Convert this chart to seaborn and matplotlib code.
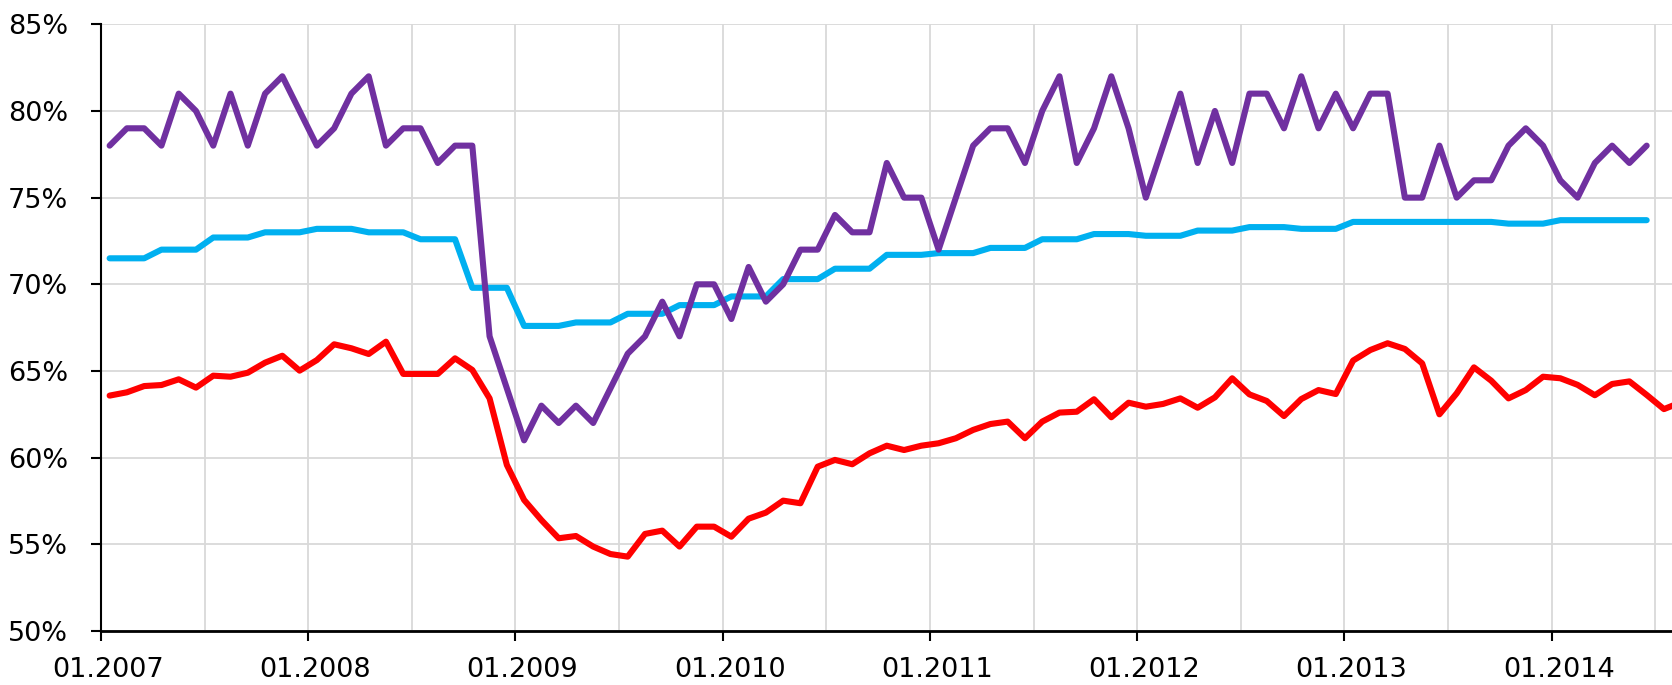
import matplotlib
matplotlib.use('Agg')
import matplotlib.pyplot as plt
from matplotlib.ticker import FixedLocator, FuncFormatter
from matplotlib.transforms import ScaledTranslation
import seaborn as sns
import numpy as np
import pandas as pd

# monthly values from 01.2007, in percent
red_values = [63.58, 63.77, 64.13, 64.19, 64.52, 64.04, 64.73, 64.67, 64.9, 65.48, 65.88, 65.02,
              65.63, 66.54, 66.31, 65.98, 66.69, 64.83, 64.83, 64.83, 65.73, 65.06, 63.42, 59.58,
              57.56, 56.4, 55.35, 55.48, 54.87, 54.44, 54.29, 55.6, 55.79, 54.87, 56.02, 56.02,
              55.44, 56.48, 56.83, 57.52, 57.37, 59.48, 59.87, 59.62, 60.25, 60.69, 60.44, 60.69,
              60.83, 61.12, 61.6, 61.94, 62.08, 61.12, 62.08, 62.6, 62.65, 63.37, 62.33, 63.17,
              62.94, 63.1, 63.42, 62.88, 63.48, 64.58, 63.65, 63.27, 62.4, 63.38, 63.9, 63.67,
              65.6, 66.21, 66.6, 66.27, 65.44, 62.5, 63.71, 65.21, 64.44, 63.42, 63.9, 64.67,
              64.58, 64.2, 63.6, 64.25, 64.4, 63.62, 62.8, 63.2]

cyan_values = [71.5, 71.5, 71.5, 72.0, 72.0, 72.0, 72.7, 72.7, 72.7, 73.0, 73.0, 73.0,
               73.2, 73.2, 73.2, 73.0, 73.0, 73.0, 72.6, 72.6, 72.6, 69.8, 69.8, 69.8,
               67.6, 67.6, 67.6, 67.8, 67.8, 67.8, 68.3, 68.3, 68.3, 68.8, 68.8, 68.8,
               69.3, 69.3, 69.3, 70.3, 70.3, 70.3, 70.9, 70.9, 70.9, 71.7, 71.7, 71.7,
               71.8, 71.8, 71.8, 72.1, 72.1, 72.1, 72.6, 72.6, 72.6, 72.9, 72.9, 72.9,
               72.8, 72.8, 72.8, 73.1, 73.1, 73.1, 73.3, 73.3, 73.3, 73.2, 73.2, 73.2,
               73.6, 73.6, 73.6, 73.6, 73.6, 73.6, 73.6, 73.6, 73.6, 73.5, 73.5, 73.5,
               73.7, 73.7, 73.7, 73.7, 73.7, 73.7]

purple_values = [78, 79, 79, 78, 81, 80, 78, 81, 78, 81, 82, 80,
                 78, 79, 81, 82, 78, 79, 79, 77, 78, 78, 67, 64,
                 61, 63, 62, 63, 62, 64, 66, 67, 69, 67, 70, 70,
                 68, 71, 69, 70, 72, 72, 74, 73, 73, 77, 75, 75,
                 72, 75, 78, 79, 79, 77, 80, 82, 77, 79, 82, 79,
                 75, 78, 81, 77, 80, 77, 81, 81, 79, 82, 79, 81,
                 79, 81, 81, 75, 75, 78, 75, 76, 76, 78, 79, 78,
                 76, 75, 77, 78, 77, 78]

x_labels = ['01.2007', '01.2008', '01.2009', '01.2010', '01.2011', '01.2012', '01.2013', '01.2014']
y_ticks = [50, 55, 60, 65, 70, 75, 80, 85]

colors = {'red': '#FF0000', 'cyan': '#00B0F0', 'purple': '#7030A0'}

frames = []
for name, vals in [('red', red_values), ('cyan', cyan_values), ('purple', purple_values)]:
    # points sit between the month tick marks, like in Excel
    frames.append(pd.DataFrame({'month': np.arange(len(vals)) + 0.5, 'value': vals, 'series': name}))
df = pd.concat(frames, ignore_index=True)

sns.set_style('white')
plt.rcParams['font.family'] = ['DejaVu Sans']

fig = plt.figure(figsize=(16.72, 6.85), dpi=100)
ax = fig.add_axes([101 / 1672, 54 / 685, 91 * 17.27 / 1672, (631 - 24.3) / 685])

sns.lineplot(data=df, x='month', y='value', hue='series', hue_order=['red', 'cyan', 'purple'],
             palette=colors, legend=False, ax=ax)
for line in ax.lines:
    line.set_linewidth(4.4)
    line.set_solid_joinstyle('round')
    line.set_solid_capstyle('round')

ax.set_xlim(0, 91)
ax.set_ylim(50, 85)
ax.set_xlabel('')
ax.set_ylabel('')

ax.xaxis.set_major_locator(FixedLocator(np.arange(0, 85, 12)))
ax.xaxis.set_minor_locator(FixedLocator(np.arange(6, 91, 12)))
ax.set_xticklabels(x_labels)
ax.set_yticks(y_ticks)
ax.yaxis.set_major_formatter(FuncFormatter(lambda v, p: '{:.0f}%'.format(v)))

ax.grid(axis='y', which='major', color='#d9d9d9', linewidth=1.3)
ax.grid(axis='x', which='both', color='#d9d9d9', linewidth=1.3)
ax.set_axisbelow(True)

ax.tick_params(axis='both', which='major', direction='out', length=7, width=1.5,
               color='black', labelsize=19.5, labelcolor='black')
ax.tick_params(axis='y', pad=16.5)
ax.tick_params(axis='x', pad=12)
ax.tick_params(axis='x', which='minor', length=0)
ax.tick_params(left=True, bottom=True)

# excel puts the date labels a bit right of the tick
shift = ScaledTranslation(7 / 100, 0, fig.dpi_scale_trans)
for lbl in ax.get_xticklabels():
    lbl.set_transform(lbl.get_transform() + shift)

sns.despine(ax=ax, top=True, right=True)
ax.spines['left'].set_color('black')
ax.spines['left'].set_linewidth(1.5)
ax.spines['bottom'].set_color('black')
ax.spines['bottom'].set_linewidth(2.0)

plt.savefig('out.png', dpi=100)
